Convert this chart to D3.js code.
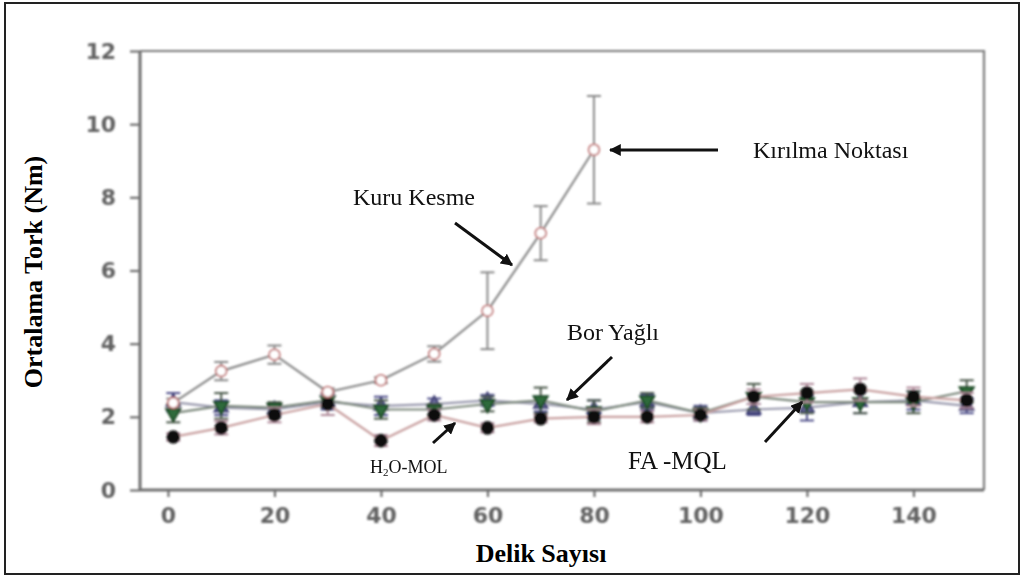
<!DOCTYPE html>
<html>
<head>
<meta charset="utf-8">
<script src="https://cdn.jsdelivr.net/npm/d3@7"></script>
<style>
  html, body { margin: 0; padding: 0; background: #fff; }
  svg { display: block; }
</style>
</head>
<body>
<svg id="chart" width="1028" height="579"></svg>
<script>
// Hole counts (Delik Sayısı) and mean torque readings (Nm) per cooling condition
const holes = [1, 10, 20, 30, 40, 50, 60, 70, 80, 90, 100, 110, 120, 130, 140, 150];
const kuruHoles = [1, 10, 20, 30, 40, 50, 60, 70, 80];

const kuruKesme    = [2.38, 3.25, 3.70, 2.68, 3.00, 3.72, 4.90, 7.02, 9.30];
const kuruKesmeErr = [0.12, 0.25, 0.25, 0.10, 0.08, 0.21, 1.05, 0.74, 1.47];

const h2oMol    = [1.45, 1.70, 2.05, 2.35, 1.35, 2.05, 1.70, 1.95, 2.00, 2.00, 2.05, 2.55, 2.65, 2.75, 2.55, 2.45];
const h2oMolErr = [0.10, 0.18, 0.20, 0.30, 0.15, 0.15, 0.12, 0.10, 0.20, 0.15, 0.15, 0.20, 0.25, 0.30, 0.25, 0.20];

const borYagli    = [2.10, 2.30, 2.25, 2.45, 2.20, 2.20, 2.35, 2.45, 2.15, 2.45, 2.10, 2.55, 2.40, 2.40, 2.40, 2.70];
const borYagliErr = [0.25, 0.35, 0.15, 0.20, 0.25, 0.15, 0.20, 0.35, 0.30, 0.20, 0.15, 0.35, 0.30, 0.30, 0.30, 0.30];

const faMql    = [2.40, 2.25, 2.20, 2.40, 2.30, 2.35, 2.45, 2.35, 2.20, 2.40, 2.10, 2.20, 2.25, 2.40, 2.45, 2.30];
const faMqlErr = [0.25, 0.20, 0.15, 0.20, 0.25, 0.15, 0.15, 0.20, 0.25, 0.20, 0.20, 0.15, 0.35, 0.30, 0.25, 0.20];

const xTicks = [0, 20, 40, 60, 80, 100, 120, 140];
const yTicks = [0, 2, 4, 6, 8, 10, 12];

const svg = d3.select("#chart");

// outer frame
svg.append("rect")
  .attr("x", 5).attr("y", 3).attr("width", 1014).attr("height", 571)
  .attr("fill", "none").attr("stroke", "#222").attr("stroke-width", 2);

const plot = { left: 140, right: 984, top: 51, bottom: 490 };
const x = d3.scaleLinear().domain([-5.25, 153.25]).range([plot.left, plot.right]);
const y = d3.scaleLinear().domain([0, 12]).range([plot.bottom, plot.top]);

// soft blur for the plotted graphic
const defs = svg.append("defs");
defs.append("filter").attr("id", "soft")
  .attr("x", "-5%").attr("y", "-5%").attr("width", "110%").attr("height", "110%")
  .append("feGaussianBlur").attr("stdDeviation", 0.8);

defs.append("marker")
  .attr("id", "head")
  .attr("viewBox", "0 0 10 10")
  .attr("refX", 9).attr("refY", 5)
  .attr("markerWidth", 4).attr("markerHeight", 4)
  .attr("orient", "auto")
  .append("path").attr("d", "M0,0 L10,5 L0,10 z").attr("fill", "#111");

const g = svg.append("g").attr("filter", "url(#soft)");

// top and right frame lines
g.append("path")
  .attr("d", `M${plot.left},${plot.top} H${plot.right} V${plot.bottom}`)
  .attr("fill", "none").attr("stroke", "#7a7a7a").attr("stroke-width", 2.2);

// axes
const xAxis = d3.axisBottom(x).tickValues(xTicks).tickSize(7).tickPadding(10).tickSizeOuter(0);
const yAxis = d3.axisLeft(y).tickValues(yTicks).tickSize(10).tickPadding(14).tickSizeOuter(0);

const gx = g.append("g").attr("transform", `translate(0,${plot.bottom})`).call(xAxis);
const gy = g.append("g").attr("transform", `translate(${plot.left},0)`).call(yAxis);

[gx, gy].forEach(a => {
  a.select(".domain").attr("stroke", "#6e6e6e").attr("stroke-width", 3);
  a.selectAll(".tick line").attr("stroke", "#6e6e6e").attr("stroke-width", 2.2);
  a.selectAll(".tick text")
    .attr("fill", "#626262")
    .style("font-family", "'DejaVu Sans', sans-serif")
    .style("font-weight", "bold")
    .style("font-size", "22px");
});
gx.select(".domain").attr("d", `M${plot.left},0H${plot.right}`);
gy.select(".domain").attr("d", `M0,${plot.bottom}V${plot.top}`);

// series definitions
const series = [
  { xs: holes, ys: faMql, err: faMqlErr, line: "#9a9aae", errColor: "#50508a",
    shape: d3.symbolTriangle, size: 80, fill: "#6a6a9a", stroke: "#3a3a70", rot: 0 },
  { xs: holes, ys: borYagli, err: borYagliErr, line: "#7c887c", errColor: "#4c5a4c",
    shape: d3.symbolTriangle, size: 90, fill: "#2e6a3a", stroke: "#1f4a28", rot: 180 },
  { xs: holes, ys: h2oMol, err: h2oMolErr, line: "#c9a0a0", errColor: "#b08a9a",
    shape: d3.symbolCircle, size: 110, fill: "#111", stroke: "#111", rot: 0 },
  { xs: kuruHoles, ys: kuruKesme, err: kuruKesmeErr, line: "#8a8a8a", errColor: "#8a8a8a",
    shape: d3.symbolCircle, size: 90, fill: "#fff", stroke: "#c47a7a", rot: 0 }
];

const lineGen = d3.line().x(d => x(d[0])).y(d => y(d[1]));

series.forEach(s => {
  const pts = s.xs.map((h, i) => [h, s.ys[i], s.err[i]]);
  const sg = g.append("g");
  sg.append("path").datum(pts)
    .attr("d", lineGen)
    .attr("fill", "none").attr("stroke", s.line).attr("stroke-width", 2.2);

  // error bars with caps
  const eb = sg.selectAll(".eb").data(pts).enter().append("g");
  eb.append("line")
    .attr("x1", d => x(d[0])).attr("x2", d => x(d[0]))
    .attr("y1", d => y(d[1] - d[2])).attr("y2", d => y(d[1] + d[2]))
    .attr("stroke", s.errColor).attr("stroke-width", 2);
  [-1, 1].forEach(sign => {
    eb.append("line")
      .attr("x1", d => x(d[0]) - 7).attr("x2", d => x(d[0]) + 7)
      .attr("y1", d => y(d[1] + sign * d[2])).attr("y2", d => y(d[1] + sign * d[2]))
      .attr("stroke", s.errColor).attr("stroke-width", 2);
  });

  sg.selectAll(".mk").data(pts).enter().append("path")
    .attr("d", d3.symbol().type(s.shape).size(s.size))
    .attr("transform", d => `translate(${x(d[0])},${y(d[1])}) rotate(${s.rot})`)
    .attr("fill", s.fill).attr("stroke", s.stroke).attr("stroke-width", 1.8);
});

// axis titles
const serif = "'Liberation Serif', 'Times New Roman', serif";
svg.append("text")
  .attr("x", 541).attr("y", 562)
  .attr("text-anchor", "middle")
  .style("font-family", serif).style("font-weight", "bold").style("font-size", "26px")
  .text("Delik Sayısı");

svg.append("text")
  .attr("transform", "translate(42,272) rotate(-90)")
  .attr("text-anchor", "middle")
  .style("font-family", serif).style("font-weight", "bold").style("font-size", "26px")
  .text("Ortalama Tork (Nm)");

// annotations
const labels = svg.append("g").style("font-family", serif).attr("fill", "#111");
labels.append("text").attr("x", 753).attr("y", 158).style("font-size", "24px").text("Kırılma Noktası");
labels.append("text").attr("x", 353).attr("y", 205).style("font-size", "24px").text("Kuru Kesme");
labels.append("text").attr("x", 567).attr("y", 340).style("font-size", "24px").text("Bor Yağlı");
labels.append("text").attr("x", 628).attr("y", 469).style("font-size", "25px").text("FA -MQL");
const h2o = labels.append("text").attr("x", 370).attr("y", 473).style("font-size", "18px");
h2o.append("tspan").text("H");
h2o.append("tspan").attr("dy", 3).style("font-size", "11px").text("2");
h2o.append("tspan").attr("dy", -3).text("O-MOL");

const arrows = [
  [718, 150, 610, 150],
  [455, 223, 512, 265],
  [612, 357, 567, 400],
  [433, 443, 455, 423],
  [765, 442, 802, 402]
];
svg.append("g").selectAll("line").data(arrows).enter().append("line")
  .attr("x1", d => d[0]).attr("y1", d => d[1])
  .attr("x2", d => d[2]).attr("y2", d => d[3])
  .attr("stroke", "#111").attr("stroke-width", 3)
  .attr("marker-end", "url(#head)");
</script>
</body>
</html>
